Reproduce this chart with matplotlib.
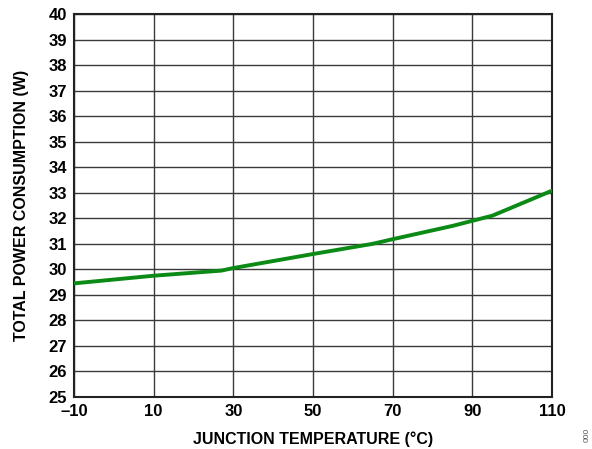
import numpy as np
import matplotlib.pyplot as plt

plt.rcParams['font.family'] = ['Liberation Sans', 'DejaVu Sans']

# junction temperature (C) vs total power consumption (W)
temp_c = [-10, 10, 27, 30, 50, 65, 70, 85, 90, 95, 110]
power_w = [29.45, 29.75, 29.95, 30.05, 30.6, 31.0, 31.18, 31.7, 31.9, 32.1, 33.08]

x_ticks = [-10, 10, 30, 50, 70, 90, 110]
x_labels = ['\u201310', '10', '30', '50', '70', '90', '110']
y_ticks = list(range(25, 41))

fig = plt.figure(figsize=(5.92, 4.49), dpi=100)
ax = fig.add_axes([74 / 592, 1 - 397 / 449, 478 / 592, 383 / 449])

ax.plot(temp_c, power_w, color='#0b8a16', lw=2.8, solid_joinstyle='round', zorder=3)

ax.set_xlim(-10, 110)
ax.set_ylim(25, 40)
ax.set_xticks(x_ticks)
ax.set_xticklabels(x_labels)
ax.set_yticks(y_ticks)
ax.grid(True, color='#3a3a3a', lw=1.0)
ax.tick_params(length=0, labelsize=12, pad=5)
for lab in ax.get_xticklabels() + ax.get_yticklabels():
    lab.set_fontweight('bold')
for s in ax.spines.values():
    s.set_linewidth(1.5)
    s.set_color('#222222')

ax.set_xlabel('JUNCTION TEMPERATURE (\u00b0C)', fontsize=11.5, fontweight='bold', labelpad=9)
ax.set_ylabel('TOTAL POWER CONSUMPTION (W)', fontsize=11.5, fontweight='bold', labelpad=14)

fig.text(0.992, 0.015, '000', rotation=90, fontsize=6, color='#555555', ha='center', va='bottom')

fig.savefig('out.png', dpi=100)
